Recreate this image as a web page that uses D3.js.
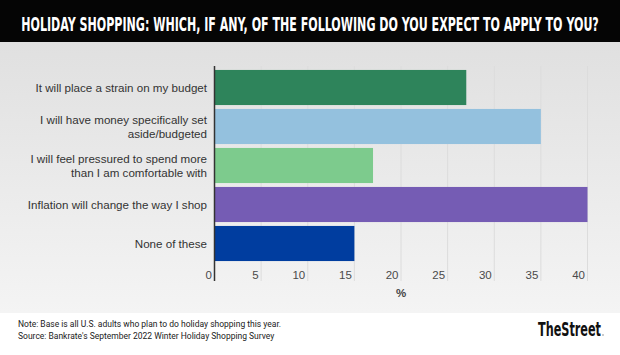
<!DOCTYPE html>
<html><head><meta charset="utf-8">
<script src="https://cdn.jsdelivr.net/npm/d3@7"></script>
<style>html,body{margin:0;padding:0;background:#fff;}svg{display:block;}</style>
</head><body>
<script>
const titleText = "HOLIDAY SHOPPING: WHICH, IF ANY, OF THE FOLLOWING DO YOU EXPECT TO APPLY TO YOU?";
const categories = [
  ["It will place a strain on my budget"],
  ["I will have money specifically set", "aside/budgeted"],
  ["I will feel pressured to spend more", "than I am comfortable with"],
  ["Inflation will change the way I shop"],
  ["None of these"]
];
const values = [27, 35, 17, 40, 15];
const barColors = ["#2e845b", "#94c1de", "#7dcb8d", "#755cb4", "#003d9f"];
const xTicks = [0, 5, 10, 15, 20, 25, 30, 35, 40];
const xLabel = "%";
const noteLines = [
  "Note: Base is all U.S. adults who plan to do holiday shopping this year.",
  "Source: Bankrate's September 2022 Winter Holiday Shopping Survey"
];
const brand = "TheStreet";

const W = 620, H = 355;
const svg = d3.select("body").append("svg").attr("width", W).attr("height", H);
const defs = svg.append("defs");
const grad = defs.append("linearGradient").attr("id", "bg").attr("x1", 0).attr("y1", 0).attr("x2", 0).attr("y2", 1);
grad.append("stop").attr("offset", "0%").attr("stop-color", "#e0e0e0");
grad.append("stop").attr("offset", "100%").attr("stop-color", "#f4f4f4");

svg.append("rect").attr("width", W).attr("height", H).attr("fill", "#fff");
svg.append("rect").attr("x", 0).attr("y", 42).attr("width", W).attr("height", 271).attr("fill", "url(#bg)");
svg.append("rect").attr("x", 0).attr("y", 0).attr("width", W).attr("height", 42).attr("fill", "#050505");

// fit a text horizontally into a given width by scaling it
function fitText(sel, targetW, anchorX, baseY, anchor) {
  const w = sel.node().getComputedTextLength();
  const s = targetW / w;
  sel.attr("x", 0).attr("y", 0).attr("text-anchor", anchor)
     .attr("transform", `translate(${anchorX},${baseY}) scale(${s},1)`);
}

const title = svg.append("text")
  .attr("font-family", "'Liberation Sans Narrow','DejaVu Sans Condensed','Roboto Condensed',sans-serif")
  .attr("font-weight", "bold").attr("font-size", 19).attr("fill", "#fff")
  .text(titleText);
fitText(title, 578, W / 2, 31, "middle");

const x = d3.scaleLinear().domain([0, 40]).range([214.5, 587.5]);
const y = d3.scaleBand().domain(d3.range(values.length)).range([68, 263]).paddingInner(0.1).paddingOuter(0.05);

// grid
svg.append("g").selectAll("line").data(xTicks.filter(d => d > 0)).join("line")
  .attr("x1", d => x(d)).attr("x2", d => x(d)).attr("y1", 66).attr("y2", 281)
  .attr("stroke", "#dcdcdc").attr("stroke-width", 1);

// bars
svg.append("g").selectAll("rect").data(values).join("rect")
  .attr("x", x(0)).attr("y", (d, i) => y(i)).attr("width", d => x(d) - x(0)).attr("height", y.bandwidth())
  .attr("fill", (d, i) => barColors[i]);

// axis line
svg.append("line").attr("x1", 214.5).attr("x2", 214.5).attr("y1", 66).attr("y2", 281)
  .attr("stroke", "#333").attr("stroke-width", 1.5);

// x axis via d3
const xAxis = d3.axisBottom(x).tickValues(xTicks).tickSize(0).tickFormat(d3.format("d"));
const gx = svg.append("g").attr("transform", "translate(0,268)").call(xAxis);
gx.select(".domain").remove();
gx.selectAll("text").attr("text-anchor", "end").attr("dx", -3).attr("dy", "0.71em")
  .attr("font-family", "'Liberation Sans',Arial,sans-serif").attr("font-size", 11.5).attr("fill", "#4a4a4a");

svg.append("text").attr("x", (x(0) + x(40)) / 2).attr("y", 297).attr("text-anchor", "middle")
  .attr("font-family", "'Liberation Sans',Arial,sans-serif").attr("font-size", 11.5).attr("font-weight", "bold").attr("fill", "#444")
  .text(xLabel);

// category labels
const lab = svg.append("g").selectAll("text").data(categories).join("text")
  .attr("text-anchor", "end")
  .attr("font-family", "'Liberation Sans',Arial,sans-serif").attr("font-size", 11.6).attr("fill", "#333");
lab.each(function (lines, i) {
  const cy = y(i) + y.bandwidth() / 2;
  const lh = 14;
  const t = d3.select(this);
  lines.forEach((ln, j) => {
    t.append("tspan").attr("x", 207)
      .attr("y", cy + (j - (lines.length - 1) / 2) * lh + 4)
      .text(ln);
  });
});

// footer
svg.append("g").selectAll("text").data(noteLines).join("text")
  .attr("x", 18).attr("y", (d, i) => 327 + i * 12)
  .attr("font-family", "Roboto,'Liberation Sans',sans-serif").attr("font-size", 8.5).attr("fill", "#222")
  .text(d => d);

const logo = svg.append("text")
  .attr("font-family", "'Liberation Sans Narrow','DejaVu Sans Condensed',sans-serif")
  .attr("font-weight", "bold").attr("font-size", 19).attr("fill", "#111")
  .text(brand);
fitText(logo, 63, 538, 336, "start");
svg.append("circle").attr("cx", 603).attr("cy", 335).attr("r", 0.8).attr("fill", "#888");
</script>
</body></html>
